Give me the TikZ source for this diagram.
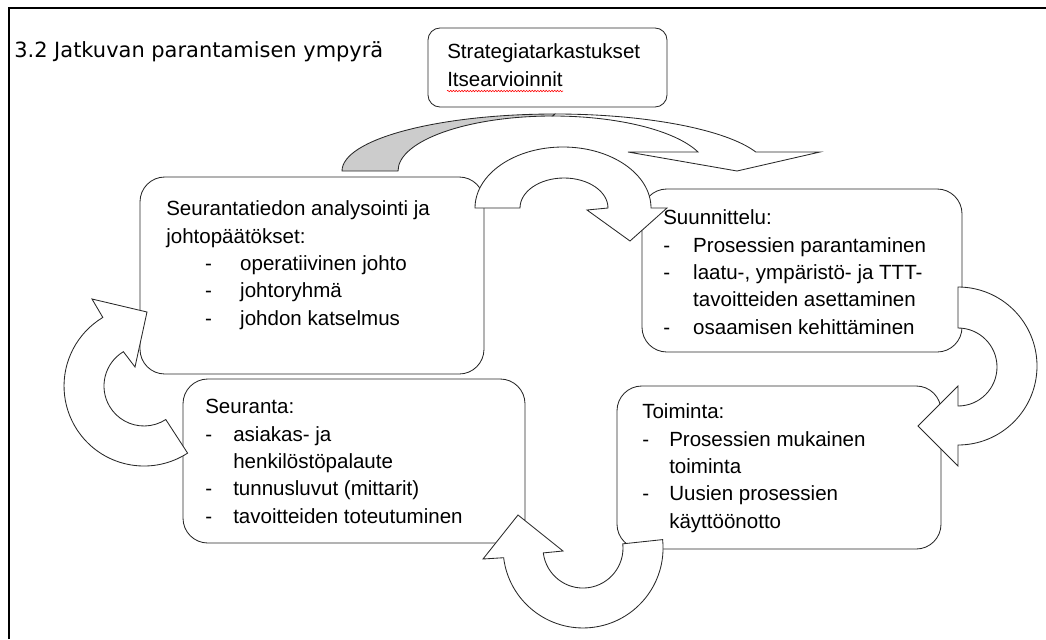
\documentclass[tikz,border=0pt]{standalone}
\usepackage{fontspec}
\setmainfont{Liberation Sans}
\newfontfamily\titlefont{DejaVu Sans}
\usetikzlibrary{fit,decorations.pathmorphing}
\definecolor{ArcGray}{RGB}{204,204,204}
\definecolor{LineGray}{RGB}{40,40,40}
\newcommand{\dashto}[1]{\makebox[#1][l]{-}}
\tikzset{
  cyclebox/.style={
    draw=LineGray,
    rounded corners=0.62cm,
    line width=0.6pt,
    fill=white,
    inner sep=0pt
  },
  boxtext/.style={
    font=\fontsize{14.6}{19.4}\selectfont,
    align=left,
    inner sep=0pt,
    anchor=base west
  },
  bandarrow/.style={draw=LineGray,line width=0.6pt,fill=white,line join=miter},
  frameline/.style={line width=1.2pt},
  squiggle/.style={red,line width=0.4pt,decorate,
    decoration={snake,amplitude=0.5pt,segment length=2pt}}
}
\begin{document}
\begin{tikzpicture}[x=0.025cm,y=-0.025cm]
\useasboundingbox (0,0) rectangle (1046,639);

\draw[frameline] (9,639) -- (9,8) -- (1046,8);
\node[anchor=base west,inner sep=0pt,font=\titlefont\fontsize{14.9}{18}\selectfont] (title)
  at (14,57) {3.2 Jatkuvan parantamisen ympyrä};

% boxes
\node[cyclebox,rounded corners=0.3cm,fit={(428,28) (667,107)}] (strat) {};
\node[cyclebox,fit={(140,177) (484,374)}] (analysis) {};
\node[cyclebox,fit={(642,189) (962,352)}] (planning) {};
\node[cyclebox,fit={(183,379) (525,543)}] (monitor) {};
\node[cyclebox,fit={(617,386) (941,549)}] (action) {};

% text anchored at the baseline of its last line
\node[boxtext] (strattext) at (447,86)
  {Strategiatarkastukset\\Itsearvioinnit};
\node[boxtext] (analysistext) at (166,325)
  {Seurantatiedon analysointi ja\\
   johtopäätökset:\\
   \hspace*{27.7pt}\dashto{24.9pt}operatiivinen johto\\
   \hspace*{27.7pt}\dashto{24.9pt}johtoryhmä\\
   \hspace*{27.7pt}\dashto{24.9pt}johdon katselmus};
\node[boxtext] (planningtext) at (663,334)
  {Suunnittelu:\\
   \dashto{21.3pt}Prosessien parantaminen\\
   \dashto{21.3pt}laatu-, ympäristö- ja TTT-\\
   \hspace*{21.3pt}tavoitteiden asettaminen\\
   \dashto{21.3pt}osaamisen kehittäminen};
\node[boxtext] (monitortext) at (205,523)
  {Seuranta:\\
   \dashto{19.9pt}asiakas- ja\\
   \hspace*{19.9pt}henkilöstöpalaute\\
   \dashto{19.9pt}tunnusluvut (mittarit)\\
   \dashto{19.9pt}tavoitteiden toteutuminen};
\node[boxtext] (actiontext) at (642,528)
  {Toiminta:\\
   \dashto{19.2pt}Prosessien mukainen\\
   \hspace*{19.2pt}toiminta\\
   \dashto{19.2pt}Uusien prosessien\\
   \hspace*{19.2pt}käyttöönotto};

\draw[squiggle] (447,91) -- (563,91);

% curved arrow under the strategy box
\draw[bandarrow,fill=ArcGray] (342,171)
  arc[start angle=180,end angle=270,x radius=213,y radius=57] -- (553,116)
  arc[start angle=270,end angle=180,x radius=155,y radius=55] -- cycle;
\draw[bandarrow] (555,114)
  arc[start angle=270,end angle=340.53,x radius=213,y radius=57]
  -- (820,152) -- (737,171) -- (628,152) -- (698,152)
  arc[start angle=339.79,end angle=270,x radius=155,y radius=55] -- cycle;

% analysis -> planning
\draw[bandarrow] (475,208)
  arc[start angle=180,end angle=360,x radius=88,y radius=61]
  -- (667,208) -- (630,241) -- (587,210) -- (608,208)
  arc[start angle=0,end angle=-180,x radius=44,y radius=30] -- cycle;

% planning -> action
\draw[bandarrow] (958,287)
  arc[start angle=-90,end angle=90,radius=79]
  -- (958,466) -- (918,426) -- (958,386) -- (958,406)
  arc[start angle=90,end angle=-90,radius=39] -- cycle;

% action -> monitor
\draw[bandarrow] (662.6,539.6)
  arc[start angle=-6,end angle=173,radius=80]
  -- (483,559) -- (518,515) -- (563,551) -- (543.3,552.9)
  arc[start angle=173,end angle=-6,radius=40] -- cycle;

% monitor -> analysis
\draw[bandarrow] (187.6,453.1)
  arc[start angle=57,end angle=239,radius=80]
  -- (92,299) -- (147,312) -- (135,367) -- (123.4,351.7)
  arc[start angle=239,end angle=57,radius=40] -- cycle;

\end{tikzpicture}
\end{document}
